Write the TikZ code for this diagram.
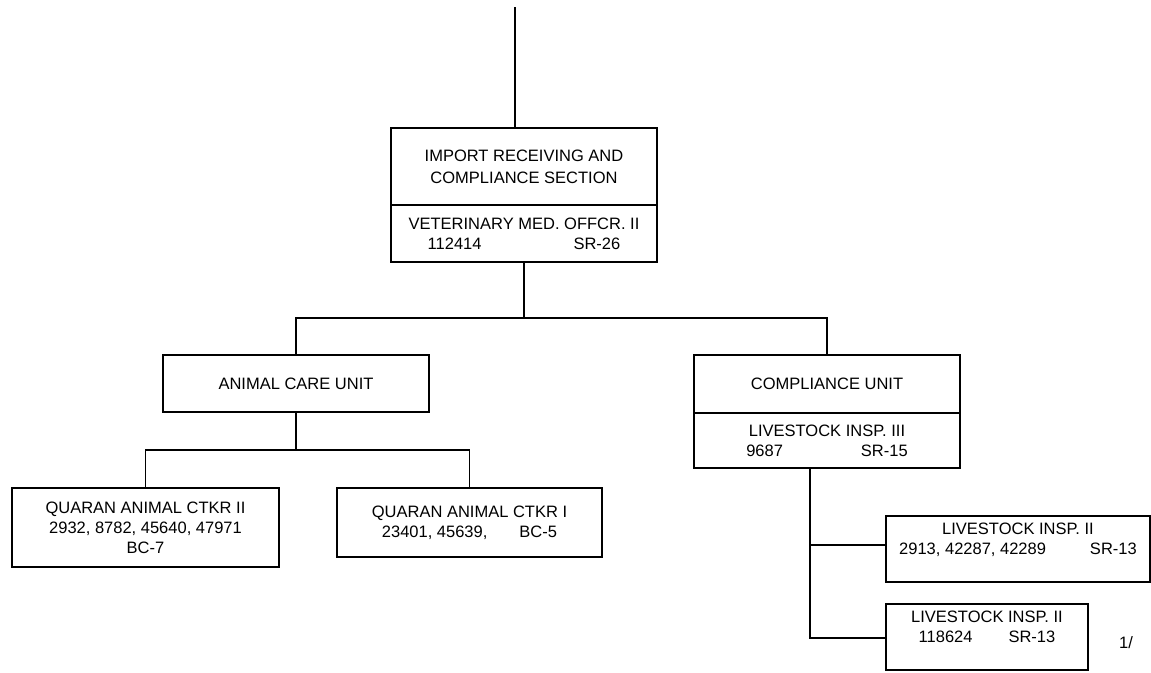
\documentclass[tikz,border=0pt]{standalone}
\usepackage{fontspec}
\setmainfont{Liberation Sans}
\begin{document}
\begin{tikzpicture}[x=1pt,y=-1pt,line width=1.3pt,
    font=\fontsize{16.5}{20}\selectfont,
    box/.style={draw,inner sep=0pt,align=center}]
  \useasboundingbox (0,0) rectangle (1151,672);
  % section
  \node[box,minimum width=266,minimum height=77] (sec) at (524,166.5) {IMPORT RECEIVING AND\\[2pt] COMPLIANCE SECTION};
  \node[box,minimum width=266,minimum height=57] (secvmo) at (524,233.5) {VETERINARY MED. OFFCR. II\\ 112414\hspace{92pt}SR-26};
  % units
  \node[box,minimum width=266,minimum height=57] (acu) at (296,383.5) {ANIMAL CARE UNIT};
  \node[box,minimum width=266,minimum height=58] (cu) at (827,384) {COMPLIANCE UNIT};
  \node[box,minimum width=266,minimum height=55] (cuinsp) at (827,440.5) {LIVESTOCK INSP. III\\ 9687\hspace{78pt}SR-15};
  % positions
  \node[box,minimum width=267,minimum height=79] (ctkrII) at (145.5,527.5) {QUARAN ANIMAL CTKR II\\ 2932, 8782, 45640, 47971\\ BC-7};
  \node[box,minimum width=265,minimum height=69] (ctkrI) at (469.5,522.5) {QUARAN ANIMAL CTKR I\\ 23401, 45639,\hspace{32pt}BC-5};
  \node[box,minimum width=264,minimum height=66] (inspA) at (1018,549) {LIVESTOCK INSP. II\\ 2913, 42287, 42289\hspace{44pt}SR-13\\ \mbox{}};
  \node[box,minimum width=202,minimum height=66] (inspB) at (987,637) {LIVESTOCK INSP. II\\ 118624\hspace{36pt}SR-13\hspace*{16pt}\\ \mbox{}};
  \node (note) at (1126,643) {1/};
  % connectors
  \coordinate (topend) at (515,7);
  \coordinate (j1) at (524,318);
  \coordinate (j2) at (296,450);
  \coordinate (j3) at (810,545);
  \coordinate (j4) at (810,638);
  \draw (topend) -- (topend |- sec.north);
  \draw (secvmo.south) -- (j1);
  \draw (acu.north) |- (j1) -| (cu.north);
  \draw (acu.south) -- (j2);
  \draw (ctkrII.north) |- (j2) -| (ctkrI.north);
  \draw (cuinsp.south -| j4) -- (j4) -- (j4 -| inspB.west);
  \draw (j3) -- (j3 -| inspA.west);
\end{tikzpicture}
\end{document}
